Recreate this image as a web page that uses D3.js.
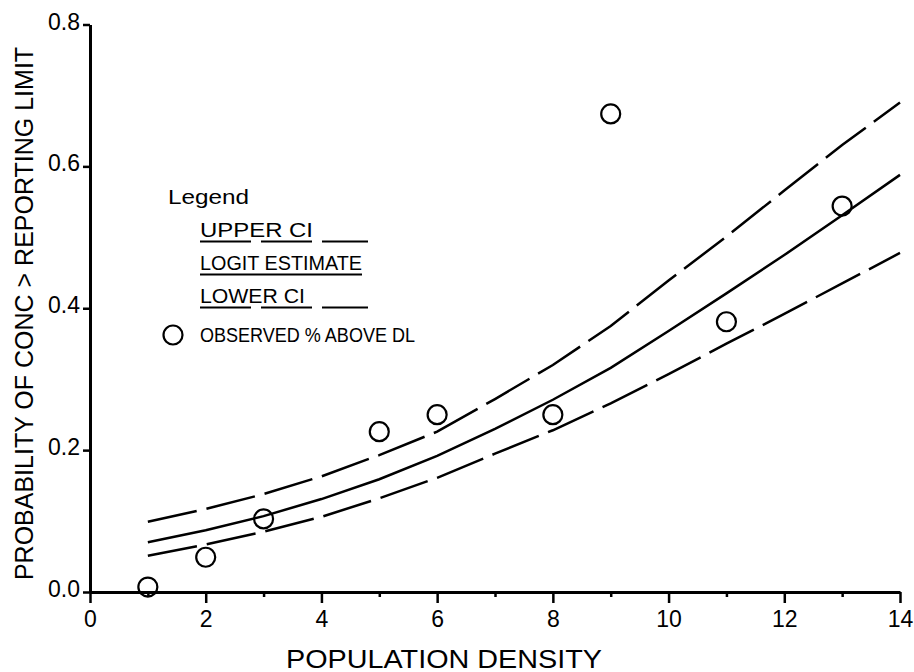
<!DOCTYPE html>
<html>
<head>
<meta charset="utf-8">
<script src="https://cdn.jsdelivr.net/npm/d3@7"></script>
<style>
  html, body { margin: 0; padding: 0; background: #fff; }
  svg { display: block; }
  text { font-family: "Liberation Sans", Arial, Helvetica, sans-serif; fill: #000; }
</style>
</head>
<body>
<svg id="chart" width="914" height="672"></svg>
<script>
// ---- data ----
const densityGrid = [1, 2, 3, 4, 5, 6, 7, 8, 9, 10, 11, 12, 13, 14];
const upperCI     = [0.099, 0.117, 0.138, 0.163, 0.193, 0.226, 0.272, 0.320, 0.375, 0.439, 0.501, 0.566, 0.630, 0.690];
const logitEst    = [0.070, 0.087, 0.107, 0.131, 0.159, 0.192, 0.230, 0.271, 0.316, 0.368, 0.421, 0.475, 0.531, 0.588];
const lowerCI     = [0.051, 0.067, 0.085, 0.106, 0.132, 0.161, 0.195, 0.228, 0.266, 0.307, 0.350, 0.392, 0.435, 0.478];
const obsDensity  = [1, 2, 3, 5, 6, 8, 9, 11, 13];
const obsPct      = [0.007, 0.049, 0.103, 0.226, 0.250, 0.250, 0.674, 0.381, 0.544];
const xMajorTicks = [0, 2, 4, 6, 8, 10, 12, 14];
const xMinorTicks = [1, 3, 5, 7, 9, 11, 13];
const yTicks      = [0, 0.2, 0.4, 0.6, 0.8];
const yTickLabels = ["0.0", "0.2", "0.4", "0.6", "0.8"];
const legendLabels = ["UPPER CI", "LOGIT ESTIMATE", "LOWER CI", "OBSERVED % ABOVE DL"];
const xTitle = "POPULATION DENSITY";
const yTitle = "PROBABILITY OF CONC > REPORTING LIMIT";

// ---- layout ----
const svg = d3.select("#chart");
const x = d3.scaleLinear().domain([0, 14]).range([90, 900]);
const y = d3.scaleLinear().domain([0, 0.8]).range([592, 24.5]);

// curves
const line = d3.line().x(d => x(d[0])).y(d => y(d[1]));
const series = [
  { vals: upperCI, dash: "50,10" },
  { vals: logitEst, dash: null },
  { vals: lowerCI, dash: "50,10" }
];
series.forEach(s => {
  svg.append("path")
    .datum(densityGrid.map((d, i) => [d, s.vals[i]]))
    .attr("d", line)
    .attr("fill", "none")
    .attr("stroke", "#000")
    .attr("stroke-width", 2.5)
    .attr("stroke-dasharray", s.dash);
});

// observed points
svg.append("g").selectAll("circle")
  .data(obsDensity.map((d, i) => [d, obsPct[i]]))
  .join("circle")
  .attr("cx", d => x(d[0]))
  .attr("cy", d => y(d[1]))
  .attr("r", 9.5)
  .attr("fill", "none")
  .attr("stroke", "#000")
  .attr("stroke-width", 2.2);

// axes
const xAxis = svg.append("g").attr("transform", `translate(0,${y(0)})`)
  .call(d3.axisBottom(x).tickValues(xMajorTicks).tickFormat(d3.format("d"))
        .tickSize(11).tickSizeOuter(0).tickPadding(8));
const xMinor = svg.append("g").attr("transform", `translate(0,${y(0)})`)
  .call(d3.axisBottom(x).tickValues(xMinorTicks).tickFormat("")
        .tickSize(5).tickSizeOuter(0));
xMinor.select(".domain").remove();
const yAxis = svg.append("g").attr("transform", `translate(${x(0)},0)`)
  .call(d3.axisLeft(y).tickValues(yTicks).tickFormat((d, i) => yTickLabels[i])
        .tickSize(7).tickSizeOuter(0).tickPadding(3));

[xAxis, xMinor, yAxis].forEach(g => {
  g.select(".domain").attr("stroke", "#000").attr("stroke-width", 3);
  g.selectAll(".tick line").attr("stroke", "#000").attr("stroke-width", 2.5);
  g.selectAll(".tick text")
    .attr("font-family", '"Liberation Sans", Arial, sans-serif')
    .attr("font-size", 23)
    .attr("fill", "#000");
});
yAxis.selectAll(".tick text").attr("dy", "0.2em");

// axis titles
svg.append("text")
  .attr("x", 286).attr("y", 668)
  .attr("font-size", 25)
  .attr("textLength", 316).attr("lengthAdjust", "spacingAndGlyphs")
  .text(xTitle);
svg.append("text")
  .attr("transform", "translate(33,313.5) rotate(-90)")
  .attr("text-anchor", "middle")
  .attr("font-size", 25)
  .text(yTitle);

// legend
const lg = svg.append("g");
lg.append("text").attr("x", 168).attr("y", 204).attr("font-size", 20)
  .attr("textLength", 81).attr("lengthAdjust", "spacingAndGlyphs").text("Legend");
const entries = [
  { label: legendLabels[0], base: 237, w: 113, ul: [200, 368], dash: "51,10" },
  { label: legendLabels[1], base: 270, w: 162, ul: [200, 362], dash: null },
  { label: legendLabels[2], base: 303, w: 105, ul: [200, 368], dash: "51,10" },
  { label: legendLabels[3], base: 342, w: 215, ul: null, dash: null }
];
entries.forEach(e => {
  const t = lg.append("text").attr("x", 200).attr("y", e.base).attr("font-size", 20).text(e.label);
  if (e.w) t.attr("textLength", e.w).attr("lengthAdjust", "spacingAndGlyphs");
  if (e.ul) {
    lg.append("line")
      .attr("x1", e.ul[0]).attr("x2", e.ul[1])
      .attr("y1", e.base + 4.5).attr("y2", e.base + 4.5)
      .attr("stroke", "#000").attr("stroke-width", 2)
      .attr("stroke-dasharray", e.dash);
  }
});
lg.append("circle").attr("cx", 173).attr("cy", 335).attr("r", 9.5)
  .attr("fill", "none").attr("stroke", "#000").attr("stroke-width", 2.2);
</script>
</body>
</html>
